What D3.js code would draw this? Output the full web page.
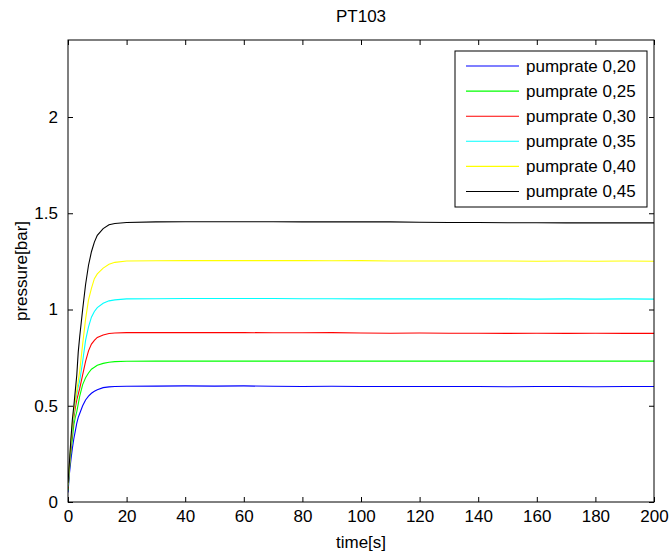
<!DOCTYPE html>
<html>
<head>
<meta charset="utf-8">
<script src="https://cdn.jsdelivr.net/npm/d3@7"></script>
<style>
  body { margin: 0; background: #fff; }
  svg text { font-family: "Liberation Sans", Arial, sans-serif; fill: #000; }
</style>
</head>
<body>
<div id="chart"></div>
<script>
// time samples [s]
const times = [0, 0.5, 1, 1.5, 2, 2.5, 3, 3.5, 4, 5, 6, 7, 8, 9, 10, 12, 14, 16, 20,
  30, 40, 50, 60, 70, 80, 90, 100, 110, 120, 130, 140, 150, 160, 170, 180, 190, 200];

const labels = ["pumprate 0,20", "pumprate 0,25", "pumprate 0,30",
  "pumprate 0,35", "pumprate 0,40", "pumprate 0,45"];
const colors = ["#0000ff", "#00ff00", "#ff0000", "#00ffff", "#ffff00", "#000000"];

// pressure [bar]
const pump020 = [0.05, 0.15, 0.22, 0.28, 0.33, 0.37, 0.41, 0.44, 0.46, 0.50, 0.53, 0.55, 0.565, 0.575, 0.583, 0.594, 0.598, 0.600, 0.601,
  0.602, 0.603, 0.602, 0.603, 0.601, 0.600, 0.601, 0.600, 0.600, 0.600, 0.600, 0.600, 0.599, 0.600, 0.600, 0.599, 0.600, 0.600];
const pump025 = [0.06, 0.17, 0.26, 0.33, 0.40, 0.44, 0.47, 0.51, 0.55, 0.61, 0.645, 0.67, 0.69, 0.70, 0.71, 0.72, 0.726, 0.729, 0.731,
  0.732, 0.732, 0.732, 0.732, 0.732, 0.732, 0.732, 0.732, 0.732, 0.732, 0.732, 0.732, 0.732, 0.732, 0.732, 0.732, 0.732, 0.732];
const pump030 = [0.07, 0.18, 0.28, 0.37, 0.44, 0.49, 0.53, 0.56, 0.59, 0.66, 0.73, 0.785, 0.82, 0.84, 0.855, 0.868, 0.875, 0.878, 0.880,
  0.880, 0.880, 0.880, 0.880, 0.879, 0.879, 0.880, 0.878, 0.877, 0.878, 0.877, 0.877, 0.876, 0.877, 0.876, 0.877, 0.876, 0.876];
const pump035 = [0.08, 0.19, 0.30, 0.39, 0.46, 0.52, 0.56, 0.60, 0.63, 0.73, 0.84, 0.91, 0.96, 0.99, 1.01, 1.032, 1.045, 1.05, 1.055,
  1.056, 1.057, 1.057, 1.057, 1.057, 1.056, 1.056, 1.055, 1.055, 1.055, 1.055, 1.055, 1.055, 1.054, 1.055, 1.054, 1.055, 1.054];
const pump040 = [0.09, 0.20, 0.31, 0.41, 0.47, 0.53, 0.58, 0.63, 0.68, 0.82, 0.95, 1.05, 1.11, 1.16, 1.185, 1.215, 1.235, 1.245, 1.252,
  1.253, 1.254, 1.254, 1.254, 1.254, 1.254, 1.253, 1.254, 1.252, 1.252, 1.252, 1.252, 1.252, 1.251, 1.252, 1.251, 1.252, 1.251];
const pump045 = [0.10, 0.21, 0.33, 0.43, 0.50, 0.58, 0.66, 0.78, 0.86, 1.00, 1.13, 1.23, 1.30, 1.35, 1.385, 1.42, 1.44, 1.447, 1.452,
  1.455, 1.456, 1.456, 1.456, 1.456, 1.455, 1.455, 1.455, 1.455, 1.453, 1.452, 1.452, 1.451, 1.451, 1.450, 1.450, 1.450, 1.450];

const seriesValues = [pump020, pump025, pump030, pump035, pump040, pump045];

const xTicks = [0, 20, 40, 60, 80, 100, 120, 140, 160, 180, 200];
const yTicks = [0, 0.5, 1, 1.5, 2];

const width = 670, height = 552;
const margin = { top: 40, right: 16, bottom: 50, left: 68 };
const innerW = width - margin.left - margin.right;
const innerH = height - margin.top - margin.bottom;

const svg = d3.select("#chart").append("svg")
  .attr("width", width)
  .attr("height", height);

const chart = svg.append("g")
  .attr("transform", `translate(${margin.left},${margin.top})`);

const xScale = d3.scaleLinear().domain([0, 200]).range([0, innerW]);
const yScale = d3.scaleLinear().domain([0, 2.4]).range([innerH, 0]);

svg.append("defs").append("clipPath").attr("id", "clip")
  .append("rect").attr("width", innerW).attr("height", innerH);

// lines
const line = d3.line()
  .x((d, i) => xScale(times[i]))
  .y(d => yScale(d));

const lines = chart.append("g").attr("clip-path", "url(#clip)");
seriesValues.forEach((vals, k) => {
  lines.append("path")
    .attr("d", line(vals))
    .attr("fill", "none")
    .attr("stroke", colors[k])
    .attr("stroke-width", 1.1);
});

// axes, MATLAB style: ticks pointing inward on all four sides
const fontSize = 17;
const tickLen = 5;

chart.append("g")
  .attr("transform", `translate(0,${innerH})`)
  .call(d3.axisBottom(xScale).tickValues(xTicks).tickSizeInner(-tickLen).tickSizeOuter(0).tickPadding(8))
  .call(g => g.selectAll("text").attr("font-size", fontSize).style("font-family", "Liberation Sans, Arial, sans-serif"));

chart.append("g")
  .call(d3.axisTop(xScale).tickValues(xTicks).tickSizeInner(-tickLen).tickSizeOuter(0).tickFormat(""));

chart.append("g")
  .call(d3.axisLeft(yScale).tickValues(yTicks).tickSizeInner(-tickLen).tickSizeOuter(0).tickPadding(10).tickFormat(d3.format("")))
  .call(g => g.selectAll("text").attr("font-size", fontSize).style("font-family", "Liberation Sans, Arial, sans-serif"));

chart.append("g")
  .attr("transform", `translate(${innerW},0)`)
  .call(d3.axisRight(yScale).tickValues(yTicks).tickSizeInner(-tickLen).tickSizeOuter(0).tickFormat(""));

chart.selectAll(".domain").remove();
chart.selectAll(".tick line").attr("stroke", "#000");
chart.append("rect")
  .attr("width", innerW).attr("height", innerH)
  .attr("fill", "none").attr("stroke", "#000").attr("stroke-width", 1);

// title and axis labels
svg.append("text")
  .attr("x", margin.left + innerW / 2).attr("y", 22)
  .attr("text-anchor", "middle").attr("font-size", fontSize)
  .text("PT103");

svg.append("text")
  .attr("x", margin.left + innerW / 2).attr("y", height - 4)
  .attr("text-anchor", "middle").attr("font-size", fontSize)
  .text("time[s]");

svg.append("text")
  .attr("transform", `translate(27,${margin.top + innerH / 2}) rotate(-90)`)
  .attr("text-anchor", "middle").attr("font-size", fontSize)
  .text("pressure[bar]");

// legend
const legend = svg.append("g").attr("transform", "translate(455,51)");
legend.append("rect")
  .attr("width", 192).attr("height", 156)
  .attr("fill", "#fff").attr("stroke", "#000");

labels.forEach((lab, k) => {
  const y = 15 + k * 25.1;
  legend.append("line")
    .attr("x1", 11).attr("x2", 64).attr("y1", y).attr("y2", y)
    .attr("stroke", colors[k]).attr("stroke-width", 1.1);
  legend.append("text")
    .attr("x", 71).attr("y", y).attr("dy", "0.35em")
    .attr("font-size", fontSize)
    .text(lab);
});
</script>
</body>
</html>
